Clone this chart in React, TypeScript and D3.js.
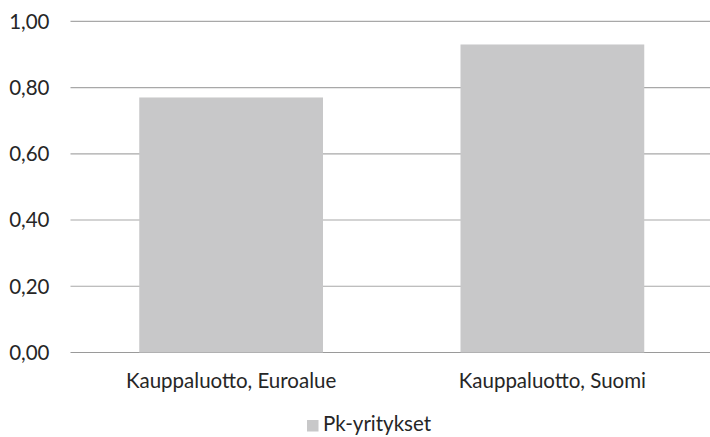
import React from 'react';
import * as d3 from 'd3';

const categories = ['Kauppaluotto, Euroalue', 'Kauppaluotto, Suomi'];
const values = [0.77, 0.93];
const yTicks = [0, 0.2, 0.4, 0.6, 0.8, 1.0];
const seriesName = 'Pk-yritykset';

const W = 710;
const H = 437;
const FONT = 'Lato, "Open Sans", sans-serif';
const FS = 20.5;

export default function App() {
  const x = d3.scaleBand<string>()
    .domain(categories)
    .range([70.5, 713])
    .paddingInner(0.428)
    .paddingOuter(0.214);
  const y = d3.scaleLinear().domain([0, 1]).range([352.5, 21.3]);
  const fmt = (v: number) => v.toFixed(2).replace('.', ',');

  return (
    <svg width={W} height={H} style={{ position: 'absolute', left: 0, top: 0 }}>
      <rect width={W} height={H} fill="#fff" />
      {yTicks.map((t) => (
        <g key={t}>
          <line x1={70.5} x2={W} y1={y(t)} y2={y(t)} stroke={t === 0 ? '#9a9a9a' : '#a8a8a8'} strokeWidth={1.2} />
          <text x={49.5} y={y(t) + 7.3} textAnchor="end" fontFamily={FONT} fontSize={FS} fill="#262626">
            {fmt(t)}
          </text>
        </g>
      ))}
      {categories.map((c, i) => (
        <rect key={c} x={x(c)} y={y(values[i])} width={x.bandwidth()} height={y(0) - y(values[i])} fill="#c8c8c9" />
      ))}
      {categories.map((c) => (
        <text key={c} x={(x(c) ?? 0) + x.bandwidth() / 2} y={388} textAnchor="middle"
          fontFamily={FONT} fontSize={FS} fill="#262626">
          {c}
        </text>
      ))}
      <g>
        <rect x={307} y={420} width={11.5} height={11.5} fill="#c8c8c9" />
        <text x={323} y={431} fontFamily={FONT} fontSize={FS} fill="#262626">{seriesName}</text>
      </g>
    </svg>
  );
}
